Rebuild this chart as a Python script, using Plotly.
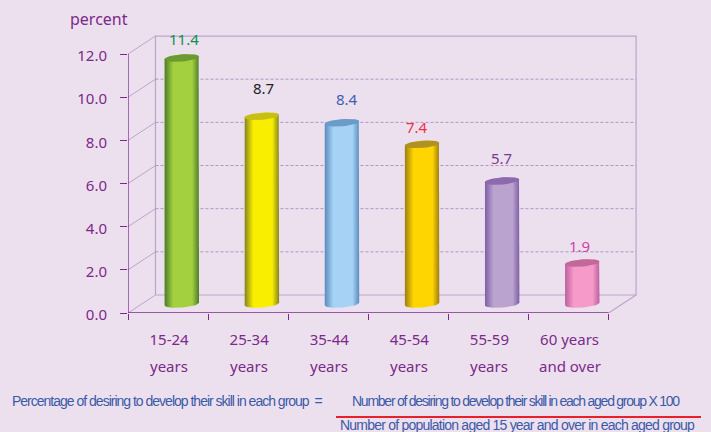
import numpy as np
import plotly.graph_objects as go

# chart values
CATEGORY_ROW1 = ['15-24', '25-34', '35-44', '45-54', '55-59', '60 years']
CATEGORY_ROW2 = ['years', 'years', 'years', 'years', 'years', 'and over']
VALUES = [11.4, 8.7, 8.4, 7.4, 5.7, 1.9]
Y_TICKS = [0, 2, 4, 6, 8, 10, 12]
Y_LABELS = ['0.0', '2.0', '4.0', '6.0', '8.0', '10.0', '12.0']

# styles
SIDE_COLORS = ['#4e7c2a', '#85841f', '#5b8cbf', '#9c7d12', '#7d5fa6', '#bd5f9f']
MID_COLORS = ['#a2d03e', '#f9ee00', '#a6d3f5', '#ffd500', '#baa3ce', '#f59ac9']
CAP_COLORS = ['#6c9a30', '#c7bf14', '#6b9bc9', '#b19024', '#8d69ad', '#c2699a']
LABEL_COLORS = ['#0b9150', '#222222', '#3b60b2', '#f2303c', '#7a3a90', '#d040a8']
LABEL_SHIFT = [(2, 19), (2, 28), (5, 24), (-5, 17), (-1, 23), (-3, 17)]

BG = '#ede0ee'
AXIS = '#7a2a8a'
WALL = '#bda3cc'
GRID = '#b292c4'
TEXT_BLUE = '#3a5aa8'
FONT = 'Noto Sans'

# "3D" box offsets, in axis units
DEPTH_X = 0.343
DEPTH_Y = 0.834
BAR_W = 0.43
CAP_H = 0.165
TILT = 0.06

W, H = 711, 432
L, R, T, B = 128, 71, 30, 119


def px(x):
    return (x - L) / (W - L - R)


def py(y):
    return (H - B - y) / (H - T - B)


def ellipse(cx, cy, start, stop):
    t = np.linspace(start, stop, 30)
    xs = cx + BAR_W / 2 * np.cos(t)
    ys = cy + CAP_H * np.sin(t) + TILT * np.cos(t)
    return xs, ys


def line(fig, xs, ys, color, width=1, dash='solid'):
    fig.add_trace(go.Scatter(x=xs, y=ys, mode='lines', cliponaxis=False, hoverinfo='skip',
                             line=dict(color=color, width=width, dash=dash)))


fig = go.Figure()

# back wall + floor + left wall
top = Y_TICKS[-1]
n = len(VALUES)
line(fig, [DEPTH_X, n + DEPTH_X, n + DEPTH_X, DEPTH_X, DEPTH_X],
     [DEPTH_Y, DEPTH_Y, top + DEPTH_Y, top + DEPTH_Y, DEPTH_Y], WALL, 1.2)
line(fig, [n, n + DEPTH_X], [0, DEPTH_Y], WALL, 1.2)
for v in Y_TICKS:
    line(fig, [0, DEPTH_X], [v, v + DEPTH_Y], WALL, 1)
    if 0 < v < top:
        line(fig, [DEPTH_X, n + DEPTH_X], [v + DEPTH_Y, v + DEPTH_Y], GRID, 1, '3px,2px')

# front axis lines
line(fig, [0, 0], [0, top], AXIS, 1.3)
line(fig, [0, n], [0, 0], AXIS, 1.3)

# cylinders
for i, v in enumerate(VALUES):
    cx = i + 0.5 + DEPTH_X / 2
    base = DEPTH_Y / 2
    x1, y1 = ellipse(cx, base, np.pi, 2 * np.pi)
    x2, y2 = ellipse(cx, base + v, 0, np.pi)
    fig.add_trace(go.Scatter(
        x=np.r_[x1, x2, x1[0]], y=np.r_[y1, y2, y1[0]], mode='lines', fill='toself',
        line=dict(width=0), hoverinfo='skip', cliponaxis=False,
        fillgradient=dict(type='horizontal', colorscale=[
            [0, SIDE_COLORS[i]], [0.25, MID_COLORS[i]], [0.8, MID_COLORS[i]], [1, SIDE_COLORS[i]]])))
    xc, yc = ellipse(cx, base + v, 0, 2 * np.pi)
    fig.add_trace(go.Scatter(x=xc, y=yc, mode='lines', fill='toself', fillcolor=CAP_COLORS[i],
                             line=dict(width=0), hoverinfo='skip', cliponaxis=False))
    fig.add_annotation(x=cx, y=base + v, text=f'{v}', showarrow=False, xshift=LABEL_SHIFT[i][0],
                       yshift=LABEL_SHIFT[i][1], font=dict(family=FONT, size=15, color=LABEL_COLORS[i]))
    fig.add_annotation(x=i + 0.5, y=0, text=CATEGORY_ROW2[i], showarrow=False, yshift=-53, xshift=1,
                       font=dict(family=FONT, size=15, color=AXIS))

fig.add_annotation(x=px(99), y=py(19), xref='paper', yref='paper', xanchor='center', yanchor='middle',
                   text='percent', showarrow=False, font=dict(family=FONT, size=16, color=AXIS))


def formula(text, x, y, spacing):
    fig.add_annotation(x=px(x), y=py(y), xref='paper', yref='paper', xanchor='left', yanchor='middle',
                       showarrow=False, text=f'<span style="letter-spacing:{spacing}px">{text}</span>',
                       font=dict(family='Liberation Sans', size=14, color=TEXT_BLUE))


formula('Percentage of desiring to develop their skill in each group  =', 10, 401, -1.0)
formula('Number of desiring to develop their skill in each aged group X 100', 350, 401, -1.25)
formula('Number of population aged 15 year and over in each aged group', 338, 425, -0.78)
fig.add_shape(type='line', xref='paper', yref='paper', x0=px(336), x1=px(701), y0=py(417), y1=py(417),
              line=dict(color='#e8202c', width=2))

fig.update_layout(
    width=W, height=H, showlegend=False, paper_bgcolor=BG, plot_bgcolor=BG,
    margin=dict(l=L, r=R, t=T, b=B, autoexpand=False),
    xaxis=dict(range=[0, (W - L - R) / 80.1], tickvals=[i + 0.5 for i in range(n)], ticktext=CATEGORY_ROW1,
               ticks='', showgrid=False, zeroline=False, ticklabelstandoff=16, ticklabelshift=1,
               minor=dict(tickvals=list(range(n + 1)), ticks='outside', ticklen=6, tickcolor=AXIS, showgrid=False),
               tickfont=dict(family=FONT, size=15, color=AXIS)),
    yaxis=dict(range=[0, (H - T - B) / 21.58], tickvals=Y_TICKS, ticktext=Y_LABELS, ticks='outside', ticklen=7,
               tickcolor=AXIS, showgrid=False, zeroline=False, ticklabelstandoff=10, ticklabelshift=2,
               tickfont=dict(family=FONT, size=15, color=AXIS)),
)

fig.write_html("out.html", config=dict(displayModeBar=False),
               post_script="document.body.style.margin='0';document.body.style.background='%s';" % BG)
